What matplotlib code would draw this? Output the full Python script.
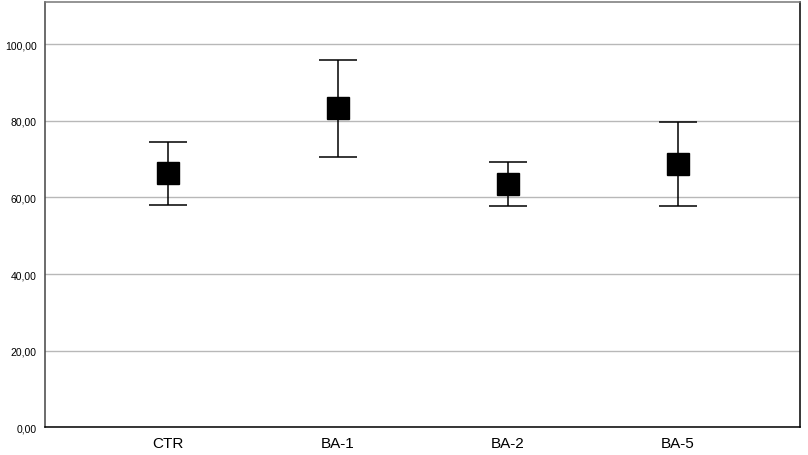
import matplotlib
matplotlib.use("Agg")
from matplotlib import pyplot as plt
from matplotlib.ticker import FuncFormatter

groups = ["CTR", "BA-1", "BA-2", "BA-5"]
means = [66.3, 83.3, 63.5, 68.7]
upper = [74.4, 95.8, 69.2, 79.7]
lower = [58.0, 70.6, 57.7, 57.7]

plt.rcParams['font.family'] = ['Liberation Sans', 'DejaVu Sans']

fig = plt.figure(figsize=(8.08, 4.56), dpi=100)
ax = fig.add_axes([0.0557, 0.0607, 0.9343, 0.9327])

x = list(range(len(groups)))
err_lo = [m - l for m, l in zip(means, lower)]
err_hi = [u - m for m, u in zip(means, upper)]
ax.errorbar(x, means, yerr=[err_lo, err_hi], fmt='none', ecolor='black',
            elinewidth=1.1, capsize=13.7, capthick=1.1, zorder=3)
ax.plot(x, means, linestyle='none', marker='s', markersize=15.2,
        color='black', zorder=4)

ax.set_xlim(-0.722, 3.72)
ax.set_ylim(0, 111)
ax.set_yticks([0, 20, 40, 60, 80, 100])
ax.yaxis.set_major_formatter(FuncFormatter(lambda v, p: f"{v:.2f}".replace('.', ',')))
ax.set_xticks(x)
ax.set_xticklabels(groups, fontsize=11)
ax.tick_params(axis='y', length=0, labelsize=7.5, pad=6)
ax.tick_params(axis='x', length=0, pad=6)
ax.grid(axis='y', color='#b8b8b8', linewidth=1)
ax.set_axisbelow(True)

ax.spines['top'].set_color('#777777')
ax.spines['left'].set_color('#444444')
ax.spines['bottom'].set_color('black')
ax.spines['right'].set_color('black')
for s in ax.spines.values():
    s.set_linewidth(1.1)

plt.savefig("out.png", dpi=100)
